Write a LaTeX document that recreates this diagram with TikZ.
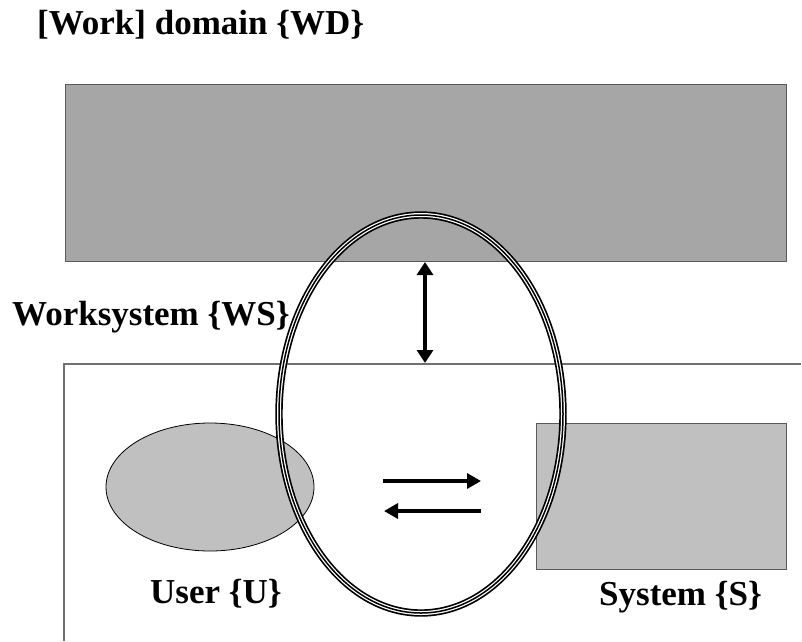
\documentclass[tikz,border=0pt]{standalone}
\usepackage{fontspec}
\setmainfont{Liberation Serif}
\usetikzlibrary{arrows.meta,shapes.geometric}
\definecolor{domaingray}{HTML}{A6A6A6}
\definecolor{partgray}{HTML}{C0C0C0}
\definecolor{edgegray}{HTML}{5A5A5A}
\definecolor{framegray}{HTML}{707070}
\tikzset{
  caption/.style={font=\fontsize{35}{40}\selectfont\bfseries, inner sep=0pt, anchor=base west},
  flow/.style={line width=3.4pt, -{Triangle[length=14pt,width=15pt]}},
  link/.style={line width=3.2pt, {Triangle[length=13pt,width=16pt]}-{Triangle[length=13pt,width=16pt]}},
  triple/.style={draw=black, line width=7.4pt,
    postaction={draw=white, line width=4pt},
    postaction={draw=black, line width=1.5pt}}
}
\begin{document}
\begin{tikzpicture}[x=1pt,y=-1pt]
  \useasboundingbox (0,0) rectangle (802,641);

  % work domain block
  \node[rectangle, draw=edgegray, line width=1pt, fill=domaingray, inner sep=0pt,
        minimum width=721pt, minimum height=177pt, anchor=north west] (domain) at (65,84) {};

  % worksystem frame (open to the right and bottom)
  \draw[framegray, line width=1.2pt] (801,364) -- (64,364) -- (64,641);

  % user and system
  \node[ellipse, draw=black, line width=0.8pt, fill=partgray, inner sep=0pt,
        minimum width=208pt, minimum height=128pt] (user) at (210,487) {};
  \node[rectangle, draw=edgegray, line width=1pt, fill=partgray, inner sep=0pt,
        minimum width=250pt, minimum height=146pt, anchor=north west] (system) at (536,423) {};

  % interaction arrows
  \coordinate (ra) at (383,481);
  \coordinate (rb) at (481,481);
  \coordinate (la) at (481,511);
  \coordinate (lb) at (384,511);
  \draw[flow] (ra) -- (rb);
  \draw[flow] (la) -- (lb);

  % domain <-> worksystem
  \coordinate (top) at (425,262);
  \coordinate (bot) at (425,363);
  \draw[link] (top) -- (bot);

  % worksystem boundary
  \node[ellipse, triple, inner sep=0pt, minimum width=284pt, minimum height=398pt] (ws) at (421,414) {};

  % captions
  \node[caption] (wdlabel) at (37,34) {[Work] domain \{WD\}};
  \node[caption] (wslabel) at (12,325) {Worksystem \{WS\}};
  \node[caption] (ulabel) at (150,603) {User \{U\}};
  \node[caption] (slabel) at (599,605) {System \{S\}};
\end{tikzpicture}
\end{document}
